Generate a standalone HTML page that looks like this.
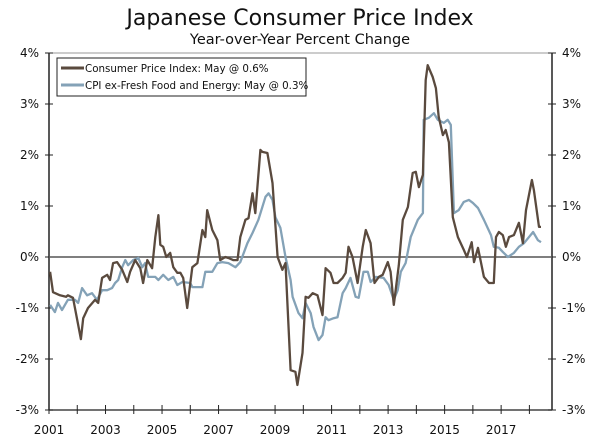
<!DOCTYPE html>
<html><head><meta charset="utf-8"><style>
html,body{margin:0;padding:0;background:#fff;}
svg{display:block;font-family:"DejaVu Sans","Liberation Sans",sans-serif;}
</style></head><body>
<svg id="chart" width="600" height="446" viewBox="0 0 600 446" xmlns="http://www.w3.org/2000/svg">
<text x="300" y="25" text-anchor="middle" font-size="22" fill="#111">Japanese Consumer Price Index</text>
<text x="300" y="44" text-anchor="middle" font-size="14.5" fill="#111">Year-over-Year Percent Change</text>
<g id="axes"></g>
<g id="series"></g>
<g>
<rect x="57" y="58" width="249" height="38" fill="#fff" stroke="#222" stroke-width="1"/>
<line x1="61" y1="68" x2="84" y2="68" stroke="#5a4a3e" stroke-width="3"/>
<text x="85" y="72" font-size="10.3" fill="#111">Consumer Price Index: May @ 0.6%</text>
<line x1="61" y1="85" x2="84" y2="85" stroke="#84a2b7" stroke-width="3"/>
<text x="85" y="89" font-size="10.3" fill="#111">CPI ex-Fresh Food and Energy: May @ 0.3%</text>
</g>
</svg>
<script>
const yTicks=[4,3,2,1,0,-1,-2,-3];
const xLabelYears=[2001,2003,2005,2007,2009,2011,2013,2015,2017];
const cpiDates=[2001.04,2001.14,2001.39,2001.60,2001.67,2001.85,2002.13,2002.21,2002.38,2002.63,2002.74,2002.88,2003.06,2003.16,2003.27,2003.41,2003.59,2003.77,2003.87,2004.05,2004.23,2004.33,2004.48,2004.65,2004.76,2004.87,2004.94,2005.04,2005.15,2005.29,2005.40,2005.54,2005.65,2005.75,2005.89,2006.07,2006.25,2006.43,2006.53,2006.60,2006.78,2006.96,2007.06,2007.24,2007.35,2007.52,2007.67,2007.77,2007.95,2008.06,2008.20,2008.30,2008.48,2008.55,2008.73,2008.91,2009.09,2009.26,2009.37,2009.55,2009.72,2009.79,2009.97,2010.08,2010.18,2010.33,2010.50,2010.68,2010.79,2010.96,2011.07,2011.21,2011.39,2011.50,2011.60,2011.74,2011.92,2012.10,2012.21,2012.38,2012.52,2012.67,2012.81,2012.99,2013.09,2013.20,2013.38,2013.52,2013.70,2013.87,2013.98,2014.09,2014.23,2014.33,2014.40,2014.58,2014.69,2014.79,2014.94,2015.04,2015.15,2015.29,2015.47,2015.68,2015.79,2015.96,2016.04,2016.18,2016.39,2016.57,2016.74,2016.82,2016.92,2017.06,2017.17,2017.28,2017.45,2017.63,2017.77,2017.88,2018.09,2018.16,2018.34,2018.41];
const cpiValues=[-0.29,-0.69,-0.75,-0.78,-0.75,-0.80,-1.61,-1.20,-1.00,-0.84,-0.90,-0.41,-0.35,-0.45,-0.12,-0.10,-0.25,-0.49,-0.29,-0.06,-0.22,-0.51,-0.06,-0.22,0.39,0.82,0.24,0.20,0.00,0.08,-0.20,-0.31,-0.31,-0.41,-1.00,-0.20,-0.12,0.53,0.39,0.92,0.53,0.33,-0.06,0.00,-0.02,-0.06,-0.06,0.39,0.73,0.76,1.25,0.86,2.10,2.06,2.04,1.45,0.00,-0.25,-0.12,-2.22,-2.25,-2.51,-1.88,-0.78,-0.80,-0.71,-0.75,-1.14,-0.22,-0.31,-0.51,-0.51,-0.41,-0.31,0.20,0.00,-0.51,0.20,0.53,0.27,-0.51,-0.39,-0.35,-0.10,-0.29,-0.94,-0.16,0.73,0.98,1.65,1.67,1.37,1.61,3.47,3.76,3.53,3.31,2.75,2.39,2.49,2.25,0.78,0.39,0.14,0.00,0.29,-0.10,0.18,-0.39,-0.51,-0.51,0.39,0.49,0.43,0.20,0.39,0.43,0.67,0.27,0.92,1.51,1.31,0.59,0.59];
const coreDates=[2001.04,2001.21,2001.32,2001.46,2001.67,2001.92,2002.03,2002.17,2002.35,2002.52,2002.70,2002.88,2003.06,2003.23,2003.34,2003.45,2003.59,2003.70,2003.80,2003.98,2004.16,2004.30,2004.40,2004.51,2004.76,2004.87,2005.04,2005.22,2005.40,2005.54,2005.72,2006.00,2006.07,2006.43,2006.53,2006.78,2006.96,2007.13,2007.35,2007.60,2007.77,2008.02,2008.20,2008.41,2008.66,2008.77,2008.91,2009.01,2009.19,2009.37,2009.55,2009.62,2009.83,2009.97,2010.08,2010.26,2010.36,2010.54,2010.68,2010.79,2010.89,2011.07,2011.21,2011.39,2011.50,2011.67,2011.85,2011.96,2012.13,2012.28,2012.38,2012.56,2012.84,2013.02,2013.20,2013.34,2013.45,2013.62,2013.80,2014.05,2014.23,2014.26,2014.44,2014.62,2014.76,2014.97,2015.11,2015.22,2015.33,2015.50,2015.68,2015.86,2016.00,2016.18,2016.39,2016.64,2016.74,2016.92,2017.06,2017.24,2017.45,2017.63,2017.81,2018.13,2018.30,2018.41];
const coreValues=[-0.94,-1.08,-0.90,-1.04,-0.84,-0.84,-0.90,-0.61,-0.75,-0.71,-0.84,-0.65,-0.65,-0.61,-0.51,-0.45,-0.20,-0.06,-0.16,-0.06,-0.02,-0.20,-0.12,-0.39,-0.39,-0.45,-0.35,-0.45,-0.39,-0.55,-0.49,-0.51,-0.59,-0.59,-0.29,-0.29,-0.12,-0.10,-0.12,-0.20,-0.10,0.27,0.47,0.73,1.18,1.25,1.12,0.78,0.57,0.00,-0.45,-0.78,-1.10,-1.20,-0.90,-1.10,-1.37,-1.63,-1.53,-1.18,-1.24,-1.20,-1.18,-0.71,-0.61,-0.41,-0.78,-0.80,-0.29,-0.29,-0.49,-0.39,-0.41,-0.55,-0.84,-0.65,-0.29,-0.12,0.39,0.73,0.86,2.69,2.73,2.82,2.69,2.63,2.69,2.59,0.86,0.92,1.08,1.12,1.06,0.96,0.73,0.43,0.20,0.18,0.10,0.00,0.08,0.20,0.27,0.49,0.33,0.29];

const NS="http://www.w3.org/2000/svg";
const L=49,R=552,T=53,B=410,X0=2001,X1=2018.8;
const xs=v=>L+(v-X0)*(R-L)/(X1-X0);
const ys=v=>T+(4-v)*(B-T)/7;
const axes=document.getElementById('axes');
const series=document.getElementById('series');
function mk(tag,attrs,parent){const e=document.createElementNS(NS,tag);for(const k in attrs)e.setAttribute(k,attrs[k]);parent.appendChild(e);return e;}

const frame=mk('rect',{x:L,y:T,width:R-L,height:B-T,fill:'none',stroke:'#999','stroke-width':1},axes);


const la=mk('line',{x1:L,y1:T,x2:L,y2:B,stroke:'#222','stroke-width':1.5},axes);


const ra=mk('line',{x1:R,y1:T,x2:R,y2:B,stroke:'#222','stroke-width':1.5},axes);


const ba=mk('line',{x1:L,y1:B,x2:R,y2:B,stroke:'#444','stroke-width':1.5},axes);



yTicks.forEach(v=>{
  const y=ys(v);
  const t1=mk('line',{x1:L-4,y1:y,x2:L+4,y2:y,stroke:'#222','stroke-width':1},axes);
  
  
  const t2=mk('line',{x1:R-4,y1:y,x2:R+4,y2:y,stroke:'#222','stroke-width':1},axes);
  
  
  const a=mk('text',{x:L-10,y:y+4,'text-anchor':'end','font-size':12,fill:'#111'},axes);
  a.textContent=v+'%';
  
  
  const b=mk('text',{x:R+10,y:y+4,'text-anchor':'start','font-size':12,fill:'#111'},axes);
  b.textContent=v+'%';
  
  
});
const zl=mk('line',{x1:L,y1:ys(0),x2:R,y2:ys(0),stroke:'#555','stroke-width':1.5},axes);


for(let yr=2001;yr<=2018;yr++){
  const t=mk('line',{x1:xs(yr),y1:B-5,x2:xs(yr),y2:B+4,stroke:'#222','stroke-width':1},axes);
  
  
}
xLabelYears.forEach(yr=>{
  const t=mk('text',{x:xs(yr),y:B+24,'text-anchor':'middle','font-size':12,fill:'#111'},axes);
  t.textContent=String(yr);
  
  
});
function line(d,v){
  return d.map((x,i)=>(i?'L':'M')+xs(x).toFixed(1)+','+ys(v[i]).toFixed(1)).join('');
}
const cp=mk('path',{d:line(coreDates,coreValues),fill:'none',stroke:'#84a2b7','stroke-width':2.3,'stroke-linejoin':'round'},series);


const hp=mk('path',{d:line(cpiDates,cpiValues),fill:'none',stroke:'#5a4a3e','stroke-width':2.3,'stroke-linejoin':'round'},series);


</script>
</body></html>
